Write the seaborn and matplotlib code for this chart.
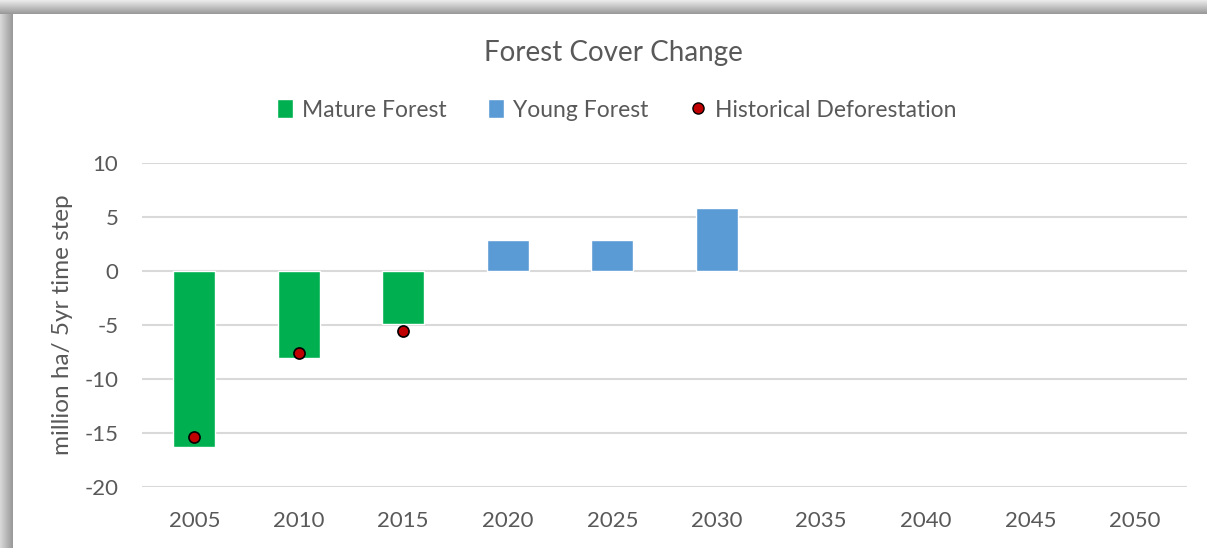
import numpy as np
import pandas as pd
import matplotlib
matplotlib.use("Agg")
import matplotlib.pyplot as plt
from matplotlib.lines import Line2D
from matplotlib.patches import Patch
import seaborn as sns

# values
years = ["2005", "2010", "2015", "2020", "2025", "2030", "2035", "2040", "2045", "2050"]
mature_forest = [-16.3, -8.1, -4.95, np.nan, np.nan, np.nan, np.nan, np.nan, np.nan, np.nan]
young_forest = [np.nan, np.nan, np.nan, 2.88, 2.88, 5.85, np.nan, np.nan, np.nan, np.nan]
historical = [-15.4, -7.6, -5.6, np.nan, np.nan, np.nan, np.nan, np.nan, np.nan, np.nan]
y_ticks = [10, 5, 0, -5, -10, -15, -20]

GREEN = "#00B050"
BLUE = "#5B9BD5"
RED = "#C00000"
TXT = "#595959"
GRID = "#D9D9D9"

sns.set_style("white")
plt.rcParams["font.family"] = ["Lato", "DejaVu Sans"]
plt.rcParams["axes.unicode_minus"] = False

bars = pd.DataFrame({
    "year": years * 2,
    "value": mature_forest + young_forest,
    "series": ["Mature Forest"] * len(years) + ["Young Forest"] * len(years),
}).dropna()
hist = pd.DataFrame({"year": years, "value": historical}).dropna()

fig = plt.figure(figsize=(12.07, 5.48), dpi=100)

# grey shadow strips along the top and left edges of the chart box
top = fig.add_axes([0, 1 - 14 / 548, 1, 14 / 548])
top.imshow(np.linspace(0.92, 0.6, 20).reshape(-1, 1), aspect="auto", cmap="gray", vmin=0, vmax=1)
top.axis("off")
left = fig.add_axes([0, 0, 13 / 1207, 1 - 14 / 548])
left.imshow(np.linspace(0.85, 0.6, 20).reshape(1, -1), aspect="auto", cmap="gray", vmin=0, vmax=1)
left.axis("off")

ax = fig.add_axes([142 / 1207, 61 / 548, 1045 / 1207, 324 / 548])
ax.set_axisbelow(True)
ax.grid(axis="y", color=GRID, linewidth=1.5)

sns.barplot(data=bars, x="year", y="value", hue="series", order=years,
            palette={"Mature Forest": GREEN, "Young Forest": BLUE},
            dodge=False, width=0.4, legend=False, ax=ax, saturation=1)
sns.stripplot(data=hist, x="year", y="value", order=years, jitter=False,
              color=RED, edgecolor="black", linewidth=1.2, size=8, ax=ax, zorder=5)

ax.set_xlim(-0.5, len(years) - 0.5)
ax.set_ylim(-20, 10)
ax.set_yticks(y_ticks)
ax.set_xlabel("")
ax.set_ylabel("million ha/ 5yr time step", fontsize=17.5, color=TXT)
ax.yaxis.set_label_coords(-0.066, 0.5)
ax.tick_params(axis="both", length=0, labelsize=16, labelcolor=TXT)
ax.tick_params(axis="x", pad=17)
ax.tick_params(axis="y", pad=17)
sns.despine(ax=ax, left=True, bottom=True)

fig.text(613 / 1207, 1 - 53 / 548, "Forest Cover Change", ha="center", va="center",
         fontsize=20, color=TXT)

handles = [
    Patch(facecolor=GREEN, label="Mature Forest"),
    Patch(facecolor=BLUE, label="Young Forest"),
    Line2D([], [], marker="o", linestyle="", markerfacecolor=RED, markeredgecolor="black",
           markersize=8, label="Historical Deforestation"),
]
fig.legend(handles=handles, loc="center", bbox_to_anchor=(617 / 1207, 1 - 110 / 548), ncol=3,
           frameon=False, fontsize=16.5, labelcolor=TXT, handlelength=0.7, handleheight=0.9,
           handletextpad=0.4, columnspacing=1.8)

fig.savefig("out.png", dpi=100)
